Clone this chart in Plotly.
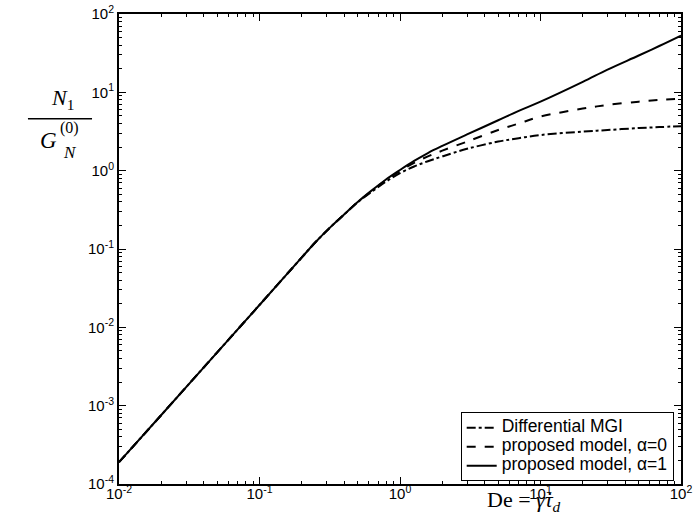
import plotly.graph_objects as go

# Deborah number values
de = [0.01, 0.02, 0.05, 0.1, 0.2, 0.25, 0.316, 0.4, 0.5, 0.63, 0.79, 1, 1.26, 1.58, 2,
      3, 5, 7, 10, 20, 30, 50, 70, 100]

# proposed model, alpha=1 (solid)
n1_alpha1 = [1.9e-4, 7.6e-4, 4.8e-3, 1.93e-2, 0.078, 0.122, 0.186, 0.275, 0.398, 0.56, 0.767, 1.02,
             1.33, 1.68, 2.07, 2.9, 4.4, 5.8, 7.6, 13.6, 19.5, 29.5, 39, 53]
# proposed model, alpha=0 (dashed)
n1_alpha0 = [1.9e-4, 7.6e-4, 4.8e-3, 1.93e-2, 0.078, 0.122, 0.186, 0.275, 0.398, 0.55, 0.75, 0.99,
             1.26, 1.52, 1.8, 2.35, 3.3, 4.0, 4.9, 6.2, 6.9, 7.6, 8.0, 8.3]
# Differential MGI (dash-dot)
n1_mgi = [1.9e-4, 7.6e-4, 4.8e-3, 1.93e-2, 0.078, 0.122, 0.186, 0.275, 0.395, 0.54, 0.72, 0.93,
          1.13, 1.32, 1.52, 1.9, 2.35, 2.6, 2.85, 3.15, 3.3, 3.5, 3.6, 3.7]

series_names = ["Differential MGI", "proposed model, \u03b1=0", "proposed model, \u03b1=1"]

x_tickvals = [1e-2, 1e-1, 1e0, 1e1, 1e2]
x_ticktext = ["10<sup>-2</sup>", "10<sup>-1</sup>", "10<sup>0</sup>", "10<sup>1</sup>", "10<sup>2</sup>"]
y_tickvals = [1e-4, 1e-3, 1e-2, 1e-1, 1e0, 1e1, 1e2]
y_ticktext = ["10<sup>-4</sup>", "10<sup>-3</sup>", "10<sup>-2</sup>", "10<sup>-1</sup>",
              "10<sup>0</sup>", "10<sup>1</sup>", "10<sup>2</sup>"]

# minor tick positions (2..9 within each decade)
x_minor = [m * 10.0 ** e for e in range(-2, 2) for m in range(2, 10)]
y_minor = [m * 10.0 ** e for e in range(-4, 2) for m in range(2, 10)]


def legend_label(s):
    return '<span style="font-size:17.5px">' + s + "</span>"


fig = go.Figure()
fig.add_trace(go.Scatter(x=de, y=n1_mgi, mode="lines", name=legend_label(series_names[0]),
                         line=dict(color="black", width=2, dash="dashdot", shape="spline")))
fig.add_trace(go.Scatter(x=de, y=n1_alpha0, mode="lines", name=legend_label(series_names[1]),
                         line=dict(color="black", width=2, dash="dash", shape="spline")))
fig.add_trace(go.Scatter(x=de, y=n1_alpha1, mode="lines", name=legend_label(series_names[2]),
                         line=dict(color="black", width=2, shape="spline")))

axis_common = dict(type="log", showgrid=False, zeroline=False, mirror="allticks",
                   showline=True, linecolor="black", linewidth=2, automargin=False,
                   ticks="inside", ticklen=7, tickcolor="black", tickwidth=1,
                   tickfont=dict(family="Liberation Sans, Arial", size=15, color="black"))

fig.update_xaxes(range=[-2, 2], tickvals=x_tickvals, ticktext=x_ticktext, ticklabelstandoff=-5,
                 minor=dict(ticks="inside", ticklen=3, tickcolor="black", tickvals=x_minor, showgrid=False),
                 **axis_common)
fig.update_yaxes(range=[-4, 2], tickvals=y_tickvals, ticktext=y_ticktext,
                 minor=dict(ticks="inside", ticklen=3, tickcolor="black", tickvals=y_minor, showgrid=False),
                 **axis_common)

fig.update_layout(
    width=696, height=516,
    margin=dict(l=119, r=15, t=14, b=32),
    paper_bgcolor="white", plot_bgcolor="white",
    font=dict(family="Liberation Sans, Arial", color="black"),
    showlegend=True,
    legend=dict(x=0.987, y=0.006, xanchor="right", yanchor="bottom",
                bgcolor="white", bordercolor="black", borderwidth=1,
                font=dict(family="Liberation Sans, Arial", size=12, color="black"),
                tracegroupgap=0, itemwidth=30),
)

serif = "Liberation Serif, DejaVu Serif, serif"
# y-axis label as a fraction N1 / G_N^(0)
fig.add_annotation(text="<i>N</i><sub>1</sub>", xref="paper", yref="paper",
                   x=-0.101, y=0.82, xanchor="center", yanchor="middle",
                   showarrow=False, font=dict(family=serif, size=22, color="black"))
fig.add_shape(type="line", xref="paper", yref="paper",
              x0=-0.162, x1=-0.048, y0=0.777, y1=0.777, line=dict(color="black", width=1.5))
fig.add_annotation(text="<i>G</i>", xref="paper", yref="paper",
                   x=-0.106, y=0.73, xanchor="right", yanchor="middle",
                   showarrow=False, font=dict(family=serif, size=23, color="black"))
fig.add_annotation(text="(0)", xref="paper", yref="paper",
                   x=-0.108, y=0.757, xanchor="left", yanchor="middle",
                   showarrow=False, font=dict(family=serif, size=16, color="black"))
fig.add_annotation(text="<i>N</i>", xref="paper", yref="paper",
                   x=-0.104, y=0.705, xanchor="left", yanchor="middle",
                   showarrow=False, font=dict(family=serif, size=17, color="black"))
# x-axis label
fig.add_annotation(text="De&nbsp;=&nbsp;<i>\u03b3\u0307\u03c4</i><sub><i>d</i></sub>", xref="paper", yref="paper",
                   x=0.72, y=-0.036, xanchor="center", yanchor="middle",
                   showarrow=False, font=dict(family=serif, size=22, color="black"))

fig.write_html("out.html", config={"displayModeBar": False},
               post_script="document.body.style.margin='0px';")
